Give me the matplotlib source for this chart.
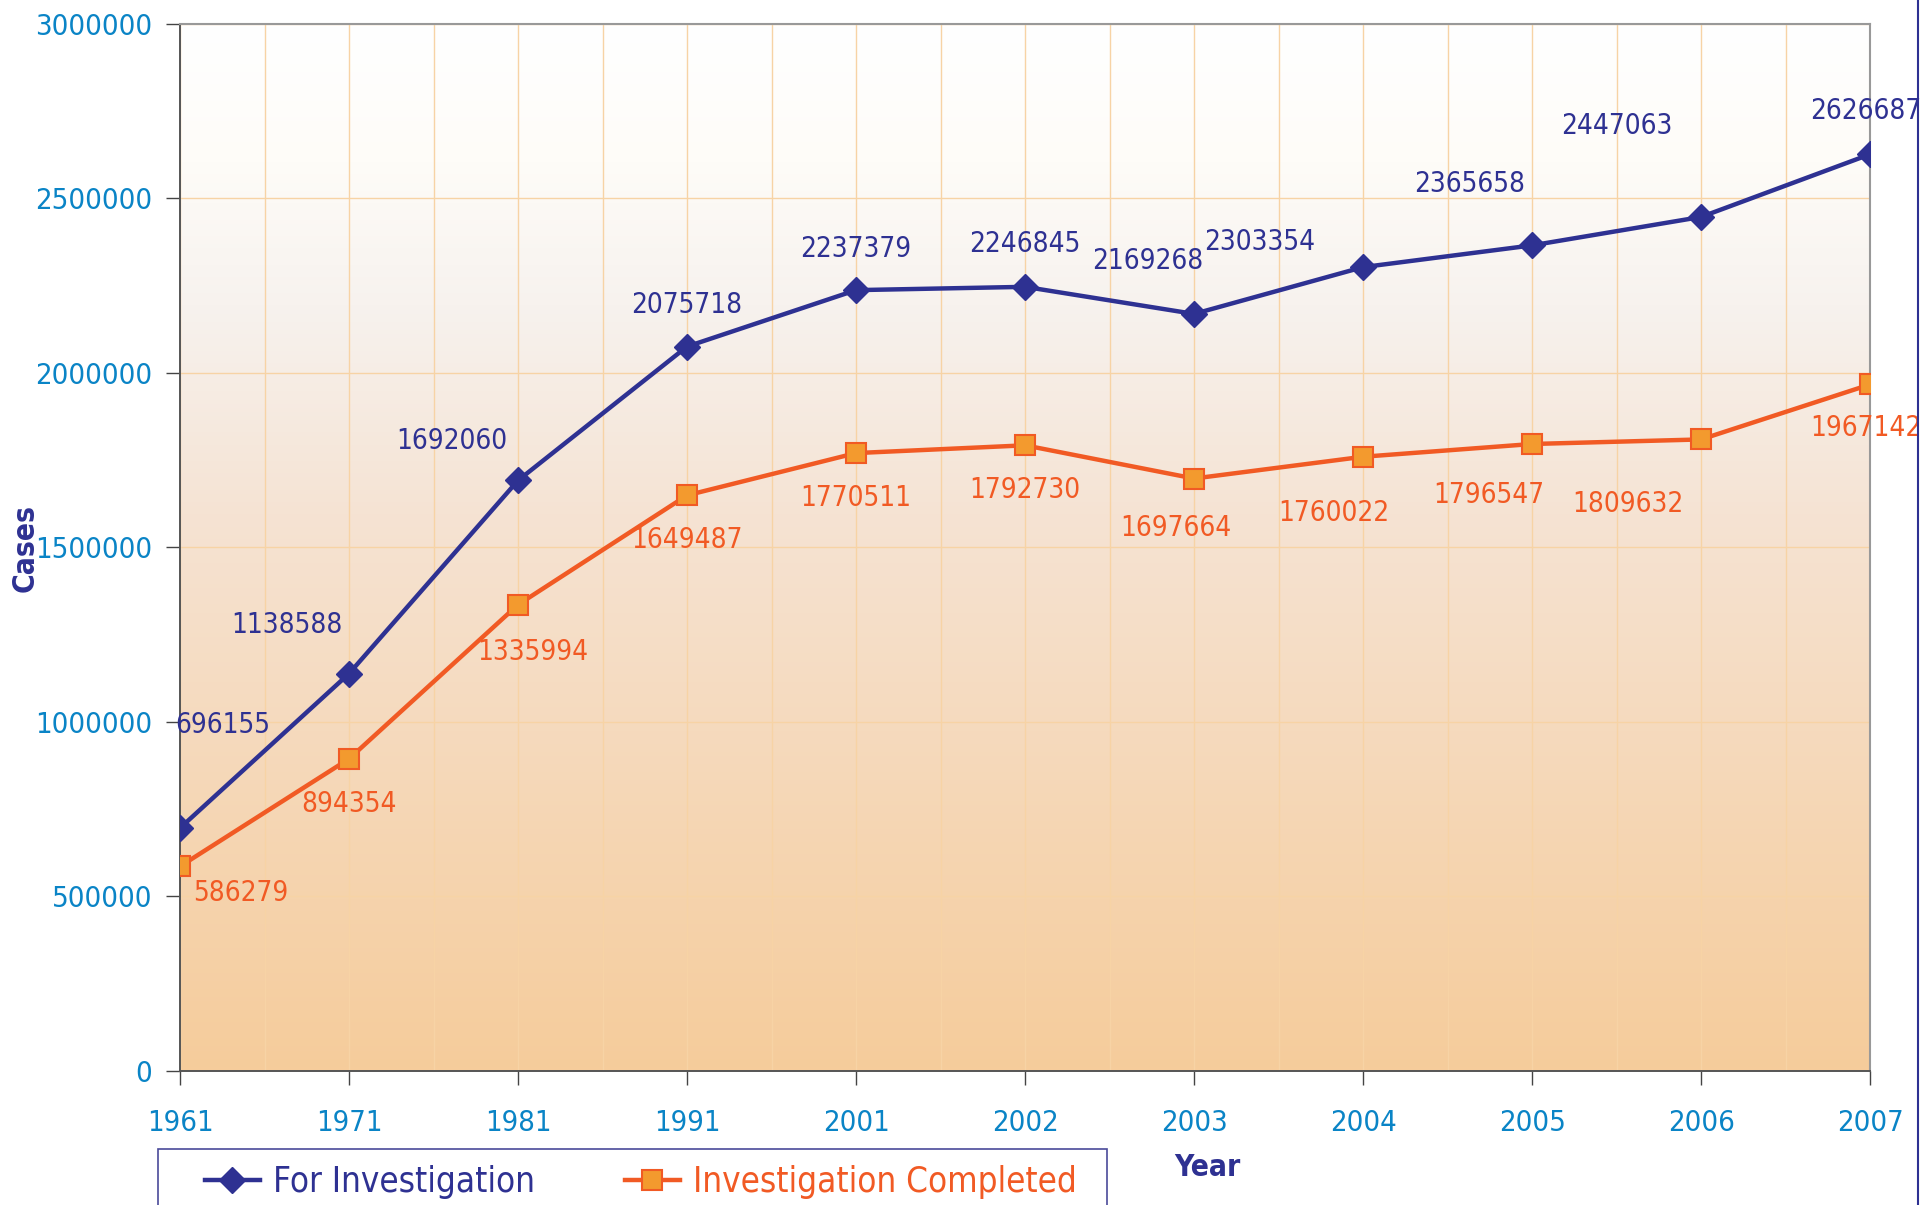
import numpy as np
import matplotlib.pyplot as plt
from matplotlib.patches import Rectangle
from matplotlib.colors import LinearSegmentedColormap

# data
years = ['1961', '1971', '1981', '1991', '2001', '2002', '2003', '2004', '2005', '2006', '2007']
for_investigation = [696155, 1138588, 1692060, 2075718, 2237379, 2246845, 2169268, 2303354, 2365658, 2447063, 2626687]
completed = [586279, 894354, 1335994, 1649487, 1770511, 1792730, 1697664, 1760022, 1796547, 1809632, 1967142]
y_ticks = [0, 500000, 1000000, 1500000, 2000000, 2500000, 3000000]

# label offsets (pixels) from each point
blue_off = [(43, 103), (-62, 49), (-66, 39), (0, 42), (0, 41), (0, 43), (-46, 53), (-103, 25), (-62, 61), (-84, 91), (-4, 43)]
orange_off = [(61, -27), (0, -45), (15, -47), (0, -45), (0, -45), (0, -45), (-18, -49), (-29, -56), (-43, -51), (-73, -65), (-4, -44)]

BLUE = '#2E3192'
ORANGE = '#F15A24'
TICK = '#0A84C6'
FS = 20

plt.rcParams['font.family'] = ['DejaVu Sans']
plt.rcParams['font.stretch'] = 'condensed'

fig = plt.figure(figsize=(19.21, 12.05), dpi=100)
ax = fig.add_axes([0.0937, 0.1112, 0.8798, 0.8689])

x = np.arange(len(years))

# gradient background
cmap = LinearSegmentedColormap.from_list('bg', [
    (0.0, '#F6CC9B'), (0.53, '#F5E3D3'), (0.73, '#F7F2EE'),
    (0.87, '#FEFCF8'), (1.0, '#FFFFFF')])
grad = np.linspace(0, 1, 256).reshape(-1, 1)
ax.imshow(grad, cmap=cmap, origin='lower', aspect='auto',
          extent=[0, 1, 0, 1], transform=ax.transAxes, zorder=0)

ax.plot(x, for_investigation, color=BLUE, lw=3.2, marker='D', ms=13,
        mfc=BLUE, mec=BLUE, zorder=4, label='For Investigation')
ax.plot(x, completed, color=ORANGE, lw=3.2, marker='s', ms=14,
        mfc='#F39A2E', mec=ORANGE, mew=1.5, zorder=4, label='Investigation Completed')

for i, v in enumerate(for_investigation):
    ax.annotate(str(v), (x[i], v), xytext=blue_off[i], textcoords='offset pixels',
                ha='center', va='center', color=BLUE, fontsize=FS, zorder=5,
                annotation_clip=False)
for i, v in enumerate(completed):
    ax.annotate(str(v), (x[i], v), xytext=orange_off[i], textcoords='offset pixels',
                ha='center', va='center', color=ORANGE, fontsize=FS, zorder=5,
                annotation_clip=False)

ax.set_xlim(0, len(years) - 1)
ax.set_ylim(0, 3000000)
ax.set_xticks(x)
ax.set_xticklabels(years)
ax.set_xticks(np.arange(0.5, len(years) - 1, 1), minor=True)
ax.set_yticks(y_ticks)
ax.set_yticklabels([str(t) for t in y_ticks])

ax.grid(True, which='both', axis='x', color='#F7D3A5', lw=1.0, zorder=1)
ax.grid(True, which='major', axis='y', color='#F7D3A5', lw=1.0, zorder=1)
ax.set_axisbelow(True)

ax.tick_params(axis='x', which='major', direction='out', length=10, width=1,
               color='#444444', labelcolor=TICK, labelsize=FS + 1, pad=17)
ax.tick_params(axis='x', which='minor', length=0)
ax.tick_params(axis='y', direction='out', length=10, width=1,
               color='#444444', labelcolor=TICK, labelsize=FS + 1, pad=10)

for s in ['left', 'bottom']:
    ax.spines[s].set_color('#555555')
    ax.spines[s].set_linewidth(1.4)
for s in ['top', 'right']:
    ax.spines[s].set_color('#999999')
    ax.spines[s].set_linewidth(1.5)

fig.text(1207 / 1921, 1 - 1167 / 1205, 'Year', ha='center', va='center',
         fontsize=21.5, fontweight='bold', color=BLUE)
fig.text(25 / 1921, 1 - 548 / 1205, 'Cases', ha='center', va='center', rotation=90,
         fontsize=21.5, fontweight='bold', color=BLUE)

# legend box (runs off the bottom edge as in the original)
fig.add_artist(Rectangle((158 / 1921, -0.02), (1107 - 158) / 1921, 0.02 + (1205 - 1149) / 1205,
                         transform=fig.transFigure, fill=False, edgecolor='#4A4A9A', lw=1.2))
leg = ax.legend(loc='center left', bbox_to_anchor=(205 / 1921, 1 - 1182 / 1205),
                bbox_transform=fig.transFigure, ncol=2, fontsize=25, frameon=False,
                handlelength=1.58, handletextpad=0.37, columnspacing=2.6,
                borderpad=0, borderaxespad=0, labelcolor='linecolor')

fig.add_artist(plt.Line2D([1918 / 1921, 1918 / 1921], [0, 1], color=BLUE, lw=1.5))

fig.savefig('out.png', dpi=100)
